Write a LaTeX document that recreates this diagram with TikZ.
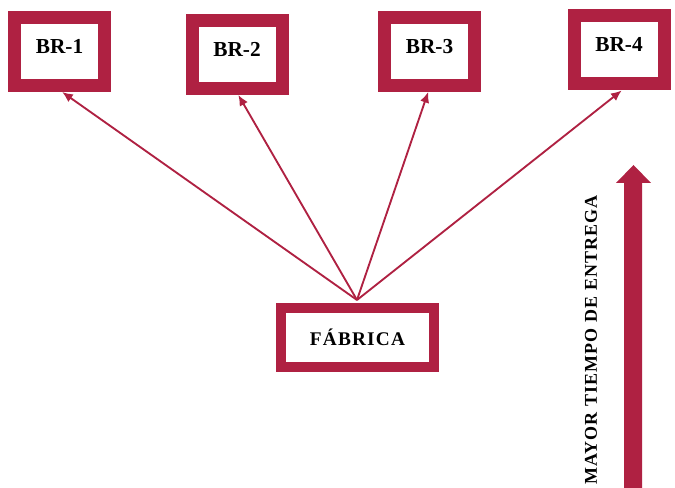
\documentclass[tikz,border=0pt]{standalone}
\usepackage{fontspec}
\setmainfont{Liberation Serif}
\newfontfamily\spacedfont[LetterSpace=6]{Liberation Serif}
\usetikzlibrary{arrows.meta}
\definecolor{crimson}{RGB}{175,33,66}
\tikzset{
  branch/.style={draw=crimson, line width=9.75pt, fill=white,
    minimum width=67.5pt, minimum height=51pt, inner sep=0pt,
    text height=5pt, text depth=2.5pt,
    font=\fontsize{16}{18}\selectfont\bfseries},
  plant/.style={draw=crimson, line width=7.5pt, fill=white,
    minimum width=114.75pt, minimum height=44.25pt, inner sep=0pt,
    font=\fontsize{14.5}{18}\selectfont\bfseries\spacedfont},
  link/.style={draw=crimson, line width=1.4pt, -{Latex[length=8pt,width=7pt]}}
}
\begin{document}
\begin{tikzpicture}[x=0.75pt, y=-0.75pt]
  \useasboundingbox (0,0) rectangle (675,488);
  % branch offices
  \node[branch] (b1) at (59.5,51.5) {BR-1};
  \node[branch] (b2) at (237,54.5) {BR-2};
  \node[branch] (b3) at (429.5,51.5) {BR-3};
  \node[branch] (b4) at (619,50) {BR-4};
  % factory
  \node[plant] (f) at (357.5,337.5) {FÁBRICA};
  % shipments from the factory
  \coordinate (src) at (357,300);
  \draw[link] (src) -- ([xshift=2pt]b1.south);
  \draw[link] (src) -- ([xshift=1pt]b2.south);
  \draw[link] (src) -- ([xshift=-1pt]b3.south);
  \draw[link] (src) -- ([xshift=2pt]b4.south);
  % lead-time arrow
  \fill[crimson] (624,488) -- (624,183) -- (616,183) -- (633.5,165)
    -- (651,183) -- (642,183) -- (642,488) -- cycle;
  \node[rotate=90, font=\fontsize{13.5}{16}\selectfont\bfseries\spacedfont]
    (lbl) at (591,340) {MAYOR TIEMPO DE ENTREGA};
\end{tikzpicture}
\end{document}
